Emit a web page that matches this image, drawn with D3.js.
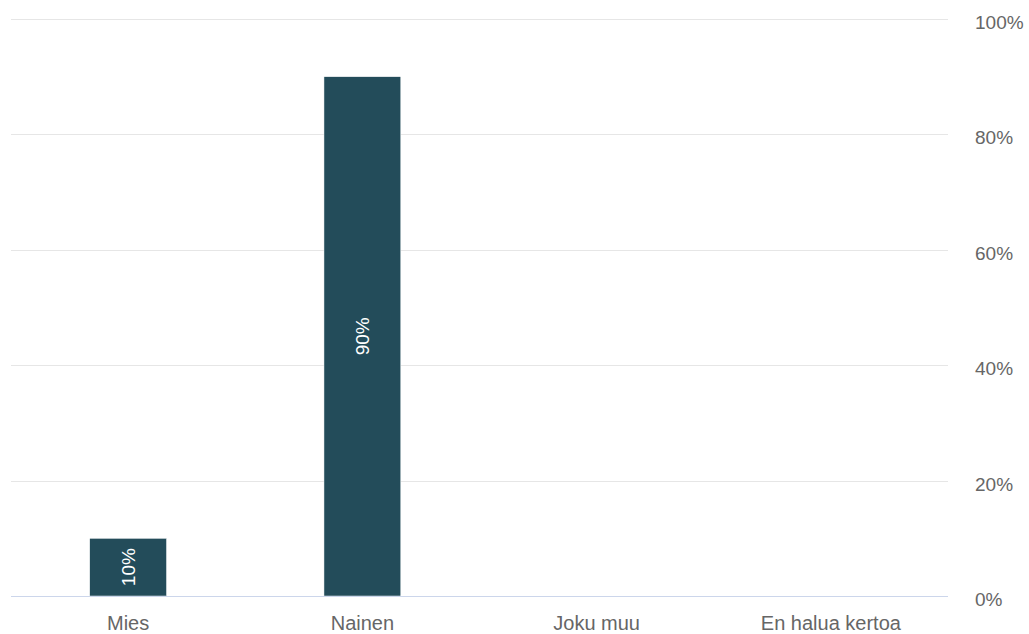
<!DOCTYPE html>
<html>
<head>
<meta charset="utf-8">
<script src="https://cdn.jsdelivr.net/npm/d3@7"></script>
<style>
  html, body { margin: 0; padding: 0; background: #fff; }
  svg { display: block; font-family: "Liberation Sans", Arial, sans-serif; }
</style>
</head>
<body>
<svg id="chart" width="1029" height="634"></svg>
<script>
// Gender distribution of respondents (share of answers)
const categories = ["Mies", "Nainen", "Joku muu", "En halua kertoa"];
const shares = [10, 90, 0, 0];
const tickValues = [0, 20, 40, 60, 80, 100];

const svg = d3.select("#chart");
const plotLeft = 11, plotRight = 948, plotTop = 19, plotBottom = 596;

const x = d3.scaleBand().domain(categories).range([plotLeft, plotRight]).paddingInner(0).paddingOuter(0);
const y = d3.scaleLinear().domain([0, 100]).range([plotBottom, plotTop]);

// Horizontal gridlines
svg.append("g").selectAll("line")
  .data(tickValues.filter(t => t > 0))
  .join("line")
  .attr("x1", plotLeft).attr("x2", plotRight)
  .attr("y1", d => Math.round(y(d)) + 0.5).attr("y2", d => Math.round(y(d)) + 0.5)
  .attr("stroke", "#e6e6e6").attr("stroke-width", 1);

// Right-hand value axis
const yAxis = d3.axisRight(y).tickValues(tickValues).tickFormat(d => d + "%").tickSize(0).tickPadding(0);
const ya = svg.append("g").attr("transform", `translate(${plotRight + 27},0)`).call(yAxis);
ya.select(".domain").remove();
ya.selectAll("text")
  .attr("fill", "#666666").attr("font-size", 19)
  .attr("dy", "0.5em").attr("text-anchor", "start");

// Bars
const barW = x.bandwidth() * 0.328;
const bars = categories.map((c, i) => ({ c, v: shares[i] })).filter(d => d.v > 0);
svg.append("g").selectAll("rect")
  .data(bars)
  .join("rect")
  .attr("x", d => x(d.c) + x.bandwidth() / 2 - barW / 2)
  .attr("width", barW)
  .attr("y", d => y(d.v))
  .attr("height", d => y(0) - y(d.v))
  .attr("fill", "#234c5a")
  .attr("stroke", "#ffffff").attr("stroke-width", 0.5);

// Value labels inside bars, rotated
svg.append("g").selectAll("text")
  .data(bars)
  .join("text")
  .attr("transform", d => {
    const cx = x(d.c) + x.bandwidth() / 2;
    const cy = (y(d.v) + y(0)) / 2;
    return `translate(${cx},${cy}) rotate(-90)`;
  })
  .attr("text-anchor", "middle")
  .attr("dy", "0.36em")
  .attr("fill", "#ffffff")
  .attr("font-size", 19)
  .text(d => d.v + "%");

// Category axis along the baseline
const xAxis = d3.axisBottom(x).tickSize(0).tickPadding(0);
const xa = svg.append("g").attr("transform", `translate(0,${plotBottom})`).call(xAxis);
xa.select(".domain").attr("stroke", "#ccd6eb").attr("d", `M${plotLeft},0.5H${plotRight}`);
xa.selectAll("text")
  .attr("fill", "#666666").attr("font-size", 20)
  .attr("y", 34).attr("dy", 0);
</script>
</body>
</html>
